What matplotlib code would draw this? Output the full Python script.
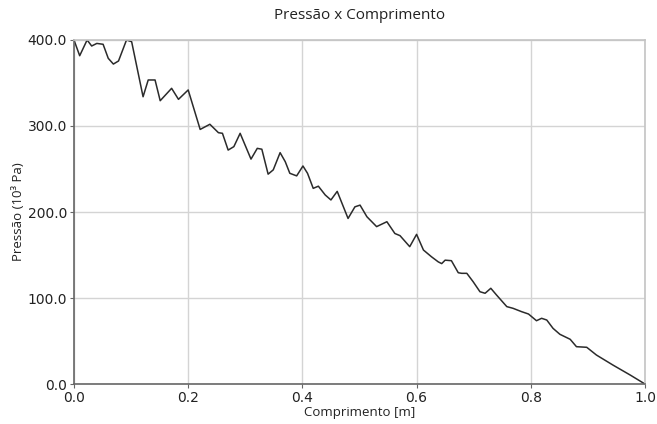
import matplotlib
matplotlib.use("Agg")
import matplotlib.pyplot as plt

# posição ao longo do tubo [m] e pressão medida [10^3 Pa]
comprimento = [0.000, 0.010, 0.023, 0.031, 0.040, 0.051, 0.060, 0.069, 0.078, 0.092,
               0.101, 0.121, 0.130, 0.142, 0.151, 0.171, 0.183, 0.200, 0.221, 0.238,
               0.253, 0.260, 0.270, 0.280, 0.291, 0.310, 0.321, 0.329, 0.340, 0.349,
               0.361, 0.370, 0.378, 0.390, 0.401, 0.409, 0.419, 0.428, 0.440, 0.450,
               0.461, 0.480, 0.492, 0.501, 0.513, 0.530, 0.548, 0.562, 0.571, 0.588,
               0.600, 0.612, 0.626, 0.638, 0.644, 0.650, 0.661, 0.673, 0.679, 0.688,
               0.699, 0.711, 0.720, 0.730, 0.740, 0.758, 0.769, 0.784, 0.796, 0.810,
               0.819, 0.828, 0.839, 0.851, 0.869, 0.880, 0.898, 0.915, 0.944, 0.974,
               1.000]
pressao = [400.0, 381.7, 400.0, 393.0, 396.0, 395.0, 378.7, 372.0, 375.6, 400.0,
           398.0, 334.0, 353.5, 353.5, 329.4, 343.8, 331.0, 341.9, 296.0, 302.0,
           292.2, 291.5, 272.0, 276.0, 291.5, 261.5, 274.0, 273.0, 244.0, 249.0,
           269.0, 258.5, 245.0, 242.0, 253.5, 245.0, 227.5, 230.0, 219.8, 214.0,
           224.0, 192.5, 206.0, 208.0, 194.5, 183.0, 188.7, 175.0, 172.5, 159.7,
           174.0, 155.8, 148.0, 142.0, 140.0, 144.0, 143.4, 129.4, 128.7, 128.7,
           119.0, 107.3, 105.5, 111.3, 103.5, 90.0, 88.0, 84.1, 81.4, 73.6,
           76.4, 74.4, 64.7, 57.8, 52.0, 43.4, 42.7, 33.7, 22.0, 10.5,
           0.0]

xticks = [0.0, 0.2, 0.4, 0.6, 0.8, 1.0]
yticks = [0.0, 100.0, 200.0, 300.0, 400.0]

fig = plt.figure(figsize=(6.57, 4.24), dpi=100)
ax = fig.add_axes([0.1126, 0.0943, 0.8691, 0.8114])

ax.plot(comprimento, pressao, color="#2b2b2b", linewidth=1.1)

ax.set_xlim(0, 1)
ax.set_ylim(0, 400)
ax.set_xticks(xticks)
ax.set_yticks(yticks)
ax.set_xticklabels(["%.1f" % v for v in xticks])
ax.set_yticklabels(["%.1f" % v for v in yticks])
ax.tick_params(labelsize=10, length=3, pad=2, color="#666666", labelcolor="#222222")

ax.grid(True, color="#d4d4d4", linewidth=1.0)
ax.set_axisbelow(True)
for lado in ["left", "bottom"]:
    ax.spines[lado].set_color("#666666")
    ax.spines[lado].set_linewidth(1.2)
for lado in ["top", "right"]:
    ax.spines[lado].set_color("#c4c4c4")
    ax.spines[lado].set_linewidth(1.2)

ax.set_title("Pressão x Comprimento", fontsize=11, family="Open Sans", pad=15, color="#222222")
ax.set_xlabel("Comprimento [m]", fontsize=9.5, family="Open Sans", color="#222222", labelpad=1)
ax.set_ylabel("Pressão (10³ Pa)", fontsize=9.5, family="Open Sans", color="#222222", labelpad=2)

fig.savefig("out.png", dpi=100, facecolor="white")
